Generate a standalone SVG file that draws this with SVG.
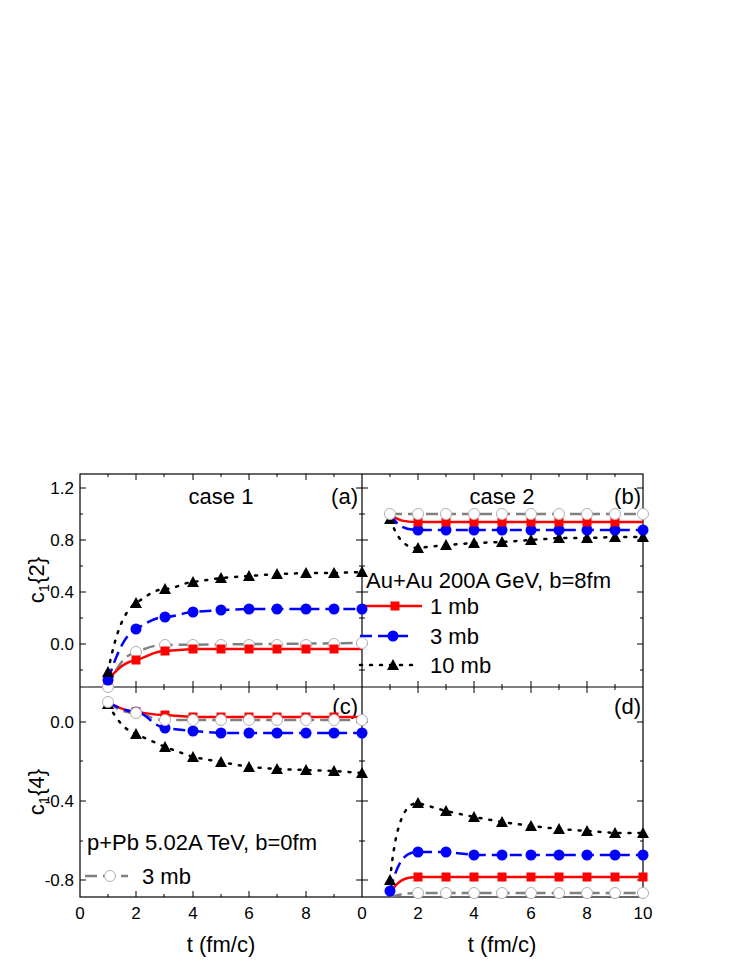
<svg xmlns="http://www.w3.org/2000/svg" xmlns:xlink="http://www.w3.org/1999/xlink" width="747" height="967" viewBox="0 0 747 967">
<style>
text{font-family:"Liberation Sans",Arial,sans-serif;fill:#000}
.tk{font-size:17px}
.lb{font-size:22px}
.ax{fill:none;stroke:#000;stroke-width:1.2}
.t{stroke:#000;stroke-width:1}
.r{fill:none;stroke:#f00;stroke-width:2.5}
.b{fill:none;stroke:#00f;stroke-width:2.5;stroke-dasharray:12 6}
.k{fill:none;stroke:#000;stroke-width:2.5;stroke-dasharray:2 8;stroke-linecap:round}
.g{fill:none;stroke:#808080;stroke-width:2.5;stroke-dasharray:12 6}
</style>
<defs>
<rect id="sq" x="-4.5" y="-4.5" width="9" height="9" fill="#f00"/>
<circle id="ci" r="5.5" fill="#00f"/>
<polygon id="tr" points="0,-6 6,5 -6,5" fill="#000"/>
<circle id="oc" r="5.5" fill="#fff" stroke="#b0b0b0" stroke-width="1"/>
</defs>
<rect width="747" height="967" fill="#fff"/>
<g id="frames">
<rect class="ax" x="80" y="474" width="563" height="423"/>
<line class="ax" x1="362" y1="474" x2="362" y2="897"/>
<line class="ax" x1="80" y1="687" x2="643" y2="687"/>
<g class="t">
<path d="M108,897v-3M136,897v-6M164,897v-3M193,897v-6M221,897v-3M249,897v-6M277,897v-3M306,897v-6M334,897v-3M390,897v-3M418,897v-6M446,897v-3M474,897v-6M502,897v-3M531,897v-6M559,897v-3M587,897v-6M615,897v-3"/>
<path d="M108,687v-3M136,687v-6M164,687v-3M193,687v-6M221,687v-3M249,687v-6M277,687v-3M306,687v-6M334,687v-3M390,687v-3M418,687v-6M446,687v-3M474,687v-6M502,687v-3M531,687v-6M559,687v-3M587,687v-6M615,687v-3"/>
<path d="M108,687v3M136,687v6M164,687v3M193,687v6M221,687v3M249,687v6M277,687v3M306,687v6M334,687v3M390,687v3M418,687v6M446,687v3M474,687v6M502,687v3M531,687v6M559,687v3M587,687v6M615,687v3"/>
<path d="M108,474v3M136,474v6M164,474v3M193,474v6M221,474v3M249,474v6M277,474v3M306,474v6M334,474v3M390,474v3M418,474v6M446,474v3M474,474v6M502,474v3M531,474v6M559,474v3M587,474v6M615,474v3"/>
<path d="M80,488h6M80,514h3M80,540h6M80,566h3M80,592h6M80,618h3M80,644h6M80,670h3"/>
<path d="M362,488h-6M362,514h-3M362,540h-6M362,566h-3M362,592h-6M362,618h-3M362,644h-6M362,670h-3"/>
<path d="M362,488h6M362,514h3M362,540h6M362,566h3M362,592h6M362,618h3M362,644h6M362,670h3"/>
<path d="M643,488h-6M643,514h-3M643,540h-6M643,566h-3M643,592h-6M643,618h-3M643,644h-6M643,670h-3"/>
<path d="M80,722h6M80,761h3M80,801h6M80,841h3M80,880h6"/>
<path d="M362,722h-6M362,761h-3M362,801h-6M362,841h-3M362,880h-6"/>
<path d="M362,722h6M362,761h3M362,801h6M362,841h3M362,880h6"/>
<path d="M643,722h-6M643,761h-3M643,801h-6M643,841h-3M643,880h-6"/>
</g>
</g>
<g id="ticklabels">
<text x="74" y="494" text-anchor="end" class="tk">1.2</text>
<text x="74" y="546" text-anchor="end" class="tk">0.8</text>
<text x="74" y="598" text-anchor="end" class="tk">0.4</text>
<text x="74" y="650" text-anchor="end" class="tk">0.0</text>
<text x="74" y="728" text-anchor="end" class="tk">0.0</text>
<text x="74" y="807" text-anchor="end" class="tk">-0.4</text>
<text x="74" y="886" text-anchor="end" class="tk">-0.8</text>
<text x="80" y="919" text-anchor="middle" class="tk">0</text>
<text x="136" y="919" text-anchor="middle" class="tk">2</text>
<text x="193" y="919" text-anchor="middle" class="tk">4</text>
<text x="249" y="919" text-anchor="middle" class="tk">6</text>
<text x="306" y="919" text-anchor="middle" class="tk">8</text>
<text x="362" y="919" text-anchor="middle" class="tk">0</text>
<text x="418" y="919" text-anchor="middle" class="tk">2</text>
<text x="474" y="919" text-anchor="middle" class="tk">4</text>
<text x="531" y="919" text-anchor="middle" class="tk">6</text>
<text x="587" y="919" text-anchor="middle" class="tk">8</text>
<text x="643" y="919" text-anchor="middle" class="tk">10</text>
</g>
<g id="axislabels">
<text x="221" y="952" text-anchor="middle" class="lb">t (fm/c)</text>
<text x="502" y="952" text-anchor="middle" class="lb">t (fm/c)</text>
<text transform="translate(44,580) rotate(-90)" text-anchor="middle" class="lb">c<tspan font-size="15" dy="5">1</tspan><tspan dy="-5">{2}</tspan></text>
<text transform="translate(44,792) rotate(-90)" text-anchor="middle" class="lb">c<tspan font-size="15" dy="5">1</tspan><tspan dy="-5">{4}</tspan></text>
</g>
<g id="panellabels">
<text x="221" y="504" text-anchor="middle" class="lb">case 1</text>
<text x="502" y="504" text-anchor="middle" class="lb">case 2</text>
<text x="358" y="504" text-anchor="end" class="lb">(a)</text>
<text x="641" y="504" text-anchor="end" class="lb">(b)</text>
<text x="358" y="714" text-anchor="end" class="lb">(c)</text>
<text x="641" y="714" text-anchor="end" class="lb">(d)</text>
<text x="366" y="588" class="lb">Au+Au 200A GeV, b=8fm</text>
<text x="87" y="850" class="lb">p+Pb 5.02A TeV, b=0fm</text>
</g>
<g id="connectors">
<path class="g" d="M108,687 C118,664 125,655 136,652 S150,645 165,645 L362,643"/>
<path class="r" d="M108,680 C118,668 125,662 136,660 S152,651 165,651 L193,649 L362,649"/>
<path class="b" d="M108,680 C118,650 125,635 136,629 S155,617 165,617 S185,612 193,612 L221,610 L249,609 L362,609"/>
<path class="k" d="M108,672 C116,630 125,610 136,603 S155,589 165,589 S185,582 193,582 L221,578 L249,576 L277,574 L306,573 L334,573 L362,572"/>
<path class="g" d="M390,514 L643,514"/>
<path class="r" d="M390,514 C398,521 405,522 418,522 L643,522"/>
<path class="b" d="M390,514 C398,527 405,530 418,530 L643,530"/>
<path class="k" d="M390,519 C398,540 405,548 418,548 L446,545 L474,543 L502,542 L531,540 L559,538 L587,538 L615,537 L643,537"/>
<path class="g" d="M108,702 C118,710 125,713 136,713 S150,720 165,720 L362,720"/>
<path class="r" d="M108,702 C118,708 125,711 136,712 S152,715 165,715 L193,717 L362,717"/>
<path class="b" d="M108,702 C118,708 125,711 136,712 S152,726 165,728 L193,731 L221,733 L362,733"/>
<path class="k" d="M108,704 C118,722 125,730 136,734 L165,747 L193,757 L221,762 L249,767 L277,769 L306,770 L334,771 L362,773"/>
<path class="g" d="M390,897 C398,895 405,893 418,893 L643,893"/>
<path class="r" d="M390,893 C398,880 405,877 418,877 L643,877"/>
<path class="b" d="M390,891 C398,860 405,852 418,852 L446,852 L474,855 L643,855"/>
<path class="k" d="M390,880 C396,820 405,803 418,803 L446,811 L474,817 L502,822 L531,826 L559,829 L587,831 L615,833 L643,833"/>
<path class="r" d="M360,606 L422,606"/>
<path class="b" d="M360,636 L412,636"/>
<path class="k" d="M360,665 L420,665"/>
<path class="g" d="M85,876 L128,876"/>
</g>
<g id="markers">
<g id="ma">
<use href="#oc" x="108" y="687"/><use href="#oc" x="136" y="652"/><use href="#oc" x="165" y="645"/><use href="#oc" x="193" y="645"/><use href="#oc" x="221" y="645"/><use href="#oc" x="249" y="645"/><use href="#oc" x="277" y="645"/><use href="#oc" x="306" y="645"/><use href="#oc" x="334" y="644"/><use href="#oc" x="362" y="643"/>
<use href="#sq" x="108" y="680"/><use href="#sq" x="136" y="660"/><use href="#sq" x="165" y="651"/><use href="#sq" x="193" y="649"/><use href="#sq" x="221" y="649"/><use href="#sq" x="249" y="649"/><use href="#sq" x="277" y="649"/><use href="#sq" x="306" y="649"/><use href="#sq" x="334" y="649"/>
<use href="#ci" x="108" y="680"/><use href="#ci" x="136" y="629"/><use href="#ci" x="165" y="617"/><use href="#ci" x="193" y="612"/><use href="#ci" x="221" y="610"/><use href="#ci" x="249" y="609"/><use href="#ci" x="277" y="609"/><use href="#ci" x="306" y="609"/><use href="#ci" x="334" y="609"/><use href="#ci" x="362" y="609"/>
<use href="#tr" x="108" y="672"/><use href="#tr" x="136" y="603"/><use href="#tr" x="165" y="589"/><use href="#tr" x="193" y="582"/><use href="#tr" x="221" y="578"/><use href="#tr" x="249" y="576"/><use href="#tr" x="277" y="574"/><use href="#tr" x="306" y="573"/><use href="#tr" x="334" y="573"/><use href="#tr" x="362" y="572"/>
</g>
<g id="mb">
<use href="#tr" x="390" y="519"/><use href="#tr" x="418" y="548"/><use href="#tr" x="446" y="545"/><use href="#tr" x="474" y="543"/><use href="#tr" x="502" y="542"/><use href="#tr" x="531" y="540"/><use href="#tr" x="559" y="538"/><use href="#tr" x="587" y="538"/><use href="#tr" x="615" y="537"/><use href="#tr" x="643" y="537"/>
<use href="#ci" x="418" y="530"/><use href="#ci" x="446" y="530"/><use href="#ci" x="474" y="530"/><use href="#ci" x="502" y="530"/><use href="#ci" x="531" y="530"/><use href="#ci" x="559" y="530"/><use href="#ci" x="587" y="530"/><use href="#ci" x="615" y="530"/><use href="#ci" x="643" y="530"/>
<use href="#sq" x="418" y="522"/><use href="#sq" x="446" y="522"/><use href="#sq" x="474" y="522"/><use href="#sq" x="502" y="522"/><use href="#sq" x="531" y="522"/><use href="#sq" x="559" y="522"/><use href="#sq" x="587" y="522"/><use href="#sq" x="615" y="522"/>
<use href="#oc" x="390" y="514"/><use href="#oc" x="418" y="514"/><use href="#oc" x="446" y="514"/><use href="#oc" x="474" y="514"/><use href="#oc" x="502" y="514"/><use href="#oc" x="531" y="514"/><use href="#oc" x="559" y="514"/><use href="#oc" x="587" y="514"/><use href="#oc" x="615" y="514"/><use href="#oc" x="643" y="514"/>
</g>
<g id="mc">
<use href="#tr" x="108" y="704"/><use href="#tr" x="136" y="734"/><use href="#tr" x="165" y="747"/><use href="#tr" x="193" y="757"/><use href="#tr" x="221" y="762"/><use href="#tr" x="249" y="767"/><use href="#tr" x="277" y="769"/><use href="#tr" x="306" y="770"/><use href="#tr" x="334" y="771"/><use href="#tr" x="362" y="773"/>
<use href="#ci" x="136" y="712"/><use href="#ci" x="165" y="728"/><use href="#ci" x="193" y="731"/><use href="#ci" x="221" y="733"/><use href="#ci" x="249" y="733"/><use href="#ci" x="277" y="733"/><use href="#ci" x="306" y="733"/><use href="#ci" x="334" y="733"/><use href="#ci" x="362" y="733"/>
<use href="#sq" x="136" y="712"/><use href="#sq" x="165" y="715"/><use href="#sq" x="193" y="717"/><use href="#sq" x="221" y="717"/><use href="#sq" x="249" y="717"/><use href="#sq" x="277" y="717"/><use href="#sq" x="306" y="717"/><use href="#sq" x="334" y="717"/>
<use href="#oc" x="108" y="702"/><use href="#oc" x="136" y="713"/><use href="#oc" x="165" y="720"/><use href="#oc" x="193" y="720"/><use href="#oc" x="221" y="720"/><use href="#oc" x="249" y="720"/><use href="#oc" x="277" y="720"/><use href="#oc" x="306" y="720"/><use href="#oc" x="334" y="720"/><use href="#oc" x="362" y="720"/>
</g>
<g id="md">
<use href="#tr" x="390" y="880"/><use href="#tr" x="418" y="803"/><use href="#tr" x="446" y="811"/><use href="#tr" x="474" y="817"/><use href="#tr" x="502" y="822"/><use href="#tr" x="531" y="826"/><use href="#tr" x="559" y="829"/><use href="#tr" x="587" y="831"/><use href="#tr" x="615" y="833"/><use href="#tr" x="643" y="833"/>
<use href="#ci" x="390" y="891"/><use href="#ci" x="418" y="852"/><use href="#ci" x="446" y="852"/><use href="#ci" x="474" y="855"/><use href="#ci" x="502" y="855"/><use href="#ci" x="531" y="855"/><use href="#ci" x="559" y="855"/><use href="#ci" x="587" y="855"/><use href="#ci" x="615" y="855"/><use href="#ci" x="643" y="855"/>
<use href="#sq" x="418" y="877"/><use href="#sq" x="446" y="877"/><use href="#sq" x="474" y="877"/><use href="#sq" x="502" y="877"/><use href="#sq" x="531" y="877"/><use href="#sq" x="559" y="877"/><use href="#sq" x="587" y="877"/><use href="#sq" x="615" y="877"/><use href="#sq" x="643" y="877"/>
<use href="#oc" x="418" y="893"/><use href="#oc" x="446" y="893"/><use href="#oc" x="474" y="893"/><use href="#oc" x="502" y="893"/><use href="#oc" x="531" y="893"/><use href="#oc" x="559" y="893"/><use href="#oc" x="587" y="893"/><use href="#oc" x="615" y="893"/><use href="#oc" x="643" y="893"/>
</g>
</g>
<g id="legend">
<use href="#sq" x="395" y="606"/>
<use href="#ci" x="393" y="636"/>
<use href="#tr" x="393" y="665"/>
<use href="#oc" x="110" y="876"/>
<text x="430" y="614" class="lb">1 mb</text>
<text x="430" y="644" class="lb">3 mb</text>
<text x="430" y="673" class="lb">10 mb</text>
<text x="142" y="884" class="lb">3 mb</text>
</g>
</svg>
